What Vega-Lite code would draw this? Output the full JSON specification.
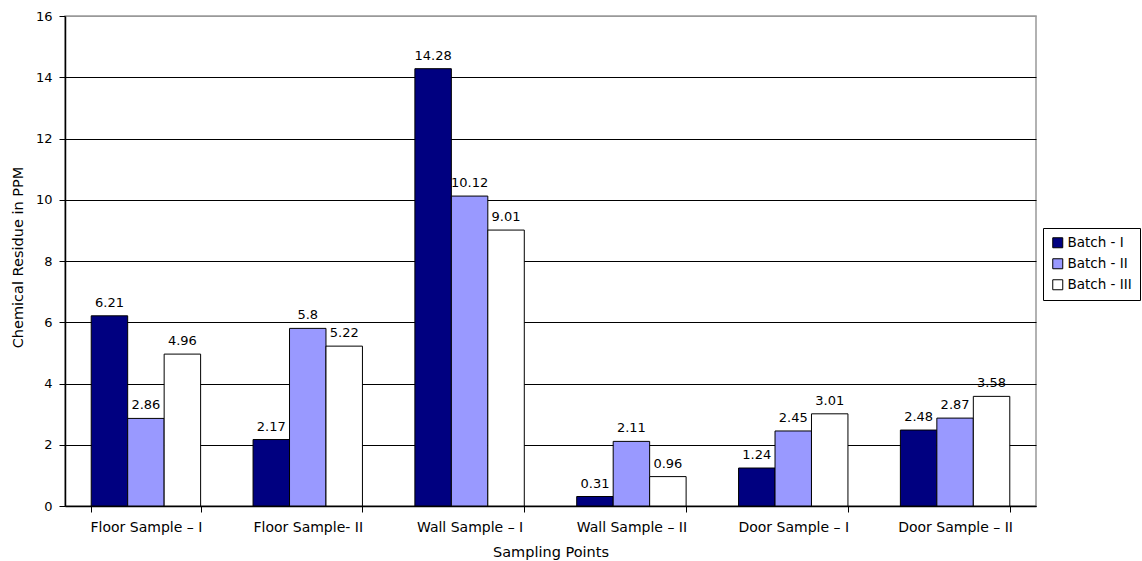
{
  "$schema": "https://vega.github.io/schema/vega-lite/v6.json",
  "width": 971,
  "height": 490,
  "autosize": {"type": "none"},
  "padding": {"left": 65, "top": 16, "right": 106, "bottom": 55},
  "background": "white",
  "config": {
    "font": "DejaVu Sans",
    "view": {"stroke": "#999999", "strokeWidth": 1.5},
    "axis": {"labelFont": "DejaVu Sans", "titleFont": "DejaVu Sans", "labelColor": "#000", "titleColor": "#000", "domainColor": "#000", "tickColor": "#000", "titleFontWeight": "normal"},
    "legend": {"labelFont": "DejaVu Sans"}
  },
  "data": {
    "values": [
      {"point": "Floor Sample – I", "batch": "Batch - I", "ppm": 6.21},
      {"point": "Floor Sample – I", "batch": "Batch - II", "ppm": 2.86},
      {"point": "Floor Sample – I", "batch": "Batch - III", "ppm": 4.96},
      {"point": "Floor Sample- II", "batch": "Batch - I", "ppm": 2.17},
      {"point": "Floor Sample- II", "batch": "Batch - II", "ppm": 5.8},
      {"point": "Floor Sample- II", "batch": "Batch - III", "ppm": 5.22},
      {"point": "Wall Sample – I", "batch": "Batch - I", "ppm": 14.28},
      {"point": "Wall Sample – I", "batch": "Batch - II", "ppm": 10.12},
      {"point": "Wall Sample – I", "batch": "Batch - III", "ppm": 9.01},
      {"point": "Wall Sample – II", "batch": "Batch - I", "ppm": 0.31},
      {"point": "Wall Sample – II", "batch": "Batch - II", "ppm": 2.11},
      {"point": "Wall Sample – II", "batch": "Batch - III", "ppm": 0.96},
      {"point": "Door Sample – I", "batch": "Batch - I", "ppm": 1.24},
      {"point": "Door Sample – I", "batch": "Batch - II", "ppm": 2.45},
      {"point": "Door Sample – I", "batch": "Batch - III", "ppm": 3.01},
      {"point": "Door Sample – II", "batch": "Batch - I", "ppm": 2.48},
      {"point": "Door Sample – II", "batch": "Batch - II", "ppm": 2.87},
      {"point": "Door Sample – II", "batch": "Batch - III", "ppm": 3.58}
    ]
  },
  "encoding": {
    "x": {
      "field": "point",
      "type": "nominal",
      "sort": null,
      "scale": {"paddingInner": 0.324, "paddingOuter": 0.162},
      "axis": {
        "title": "Sampling Points",
        "titleFontSize": 14.5,
        "titleY": 39,
        "titleBaseline": "top",
        "labelAngle": 0,
        "labelFontSize": 14,
        "labelPadding": 8,
        "tickBand": "extent",
        "tickSize": 6,
        "domainWidth": 1.5
      }
    },
    "xOffset": {"field": "batch", "type": "nominal", "sort": ["Batch - I", "Batch - II", "Batch - III"]},
    "y": {
      "field": "ppm",
      "type": "quantitative",
      "scale": {"domain": [0, 16], "nice": false},
      "axis": {
        "title": "Chemical Residue in PPM",
        "titleFontSize": 14.5,
        "titleX": -47,
        "titleY": 241,
        "titleBaseline": "middle",
        "values": [0, 2, 4, 6, 8, 10, 12, 14, 16],
        "labelFontSize": 13,
        "labelPadding": 7,
        "tickSize": 6,
        "grid": true,
        "gridColor": {"condition": {"test": "datum.value === 16", "value": "#999999"}, "value": "#000000"},
        "gridWidth": 1.2,
        "domainWidth": 1.5
      }
    }
  },
  "layer": [
    {
      "mark": {"type": "bar", "stroke": "#000", "strokeWidth": 1},
      "encoding": {
        "color": {
          "field": "batch",
          "type": "nominal",
          "sort": ["Batch - I", "Batch - II", "Batch - III"],
          "scale": {"domain": ["Batch - I", "Batch - II", "Batch - III"], "range": ["#000080", "#9999FF", "#FFFFFF"]},
          "legend": {
            "title": null,
            "orient": "none",
            "legendX": 978,
            "legendY": 212,
            "symbolType": "square",
            "symbolSize": 100,
            "symbolStrokeColor": "#000",
            "symbolStrokeWidth": 1,
            "symbolOpacity": 1,
            "labelFontSize": 13.5,
            "labelColor": "#000",
            "labelOffset": 3,
            "rowPadding": 6,
            "padding": 8,
            "strokeColor": "#000",
            "fillColor": "#fff"
          }
        }
      }
    },
    {
      "mark": {"type": "text", "baseline": "bottom", "dy": -6, "fontSize": 13, "color": "#000", "font": "DejaVu Sans"},
      "encoding": {"text": {"field": "ppm", "type": "quantitative"}}
    }
  ]
}
